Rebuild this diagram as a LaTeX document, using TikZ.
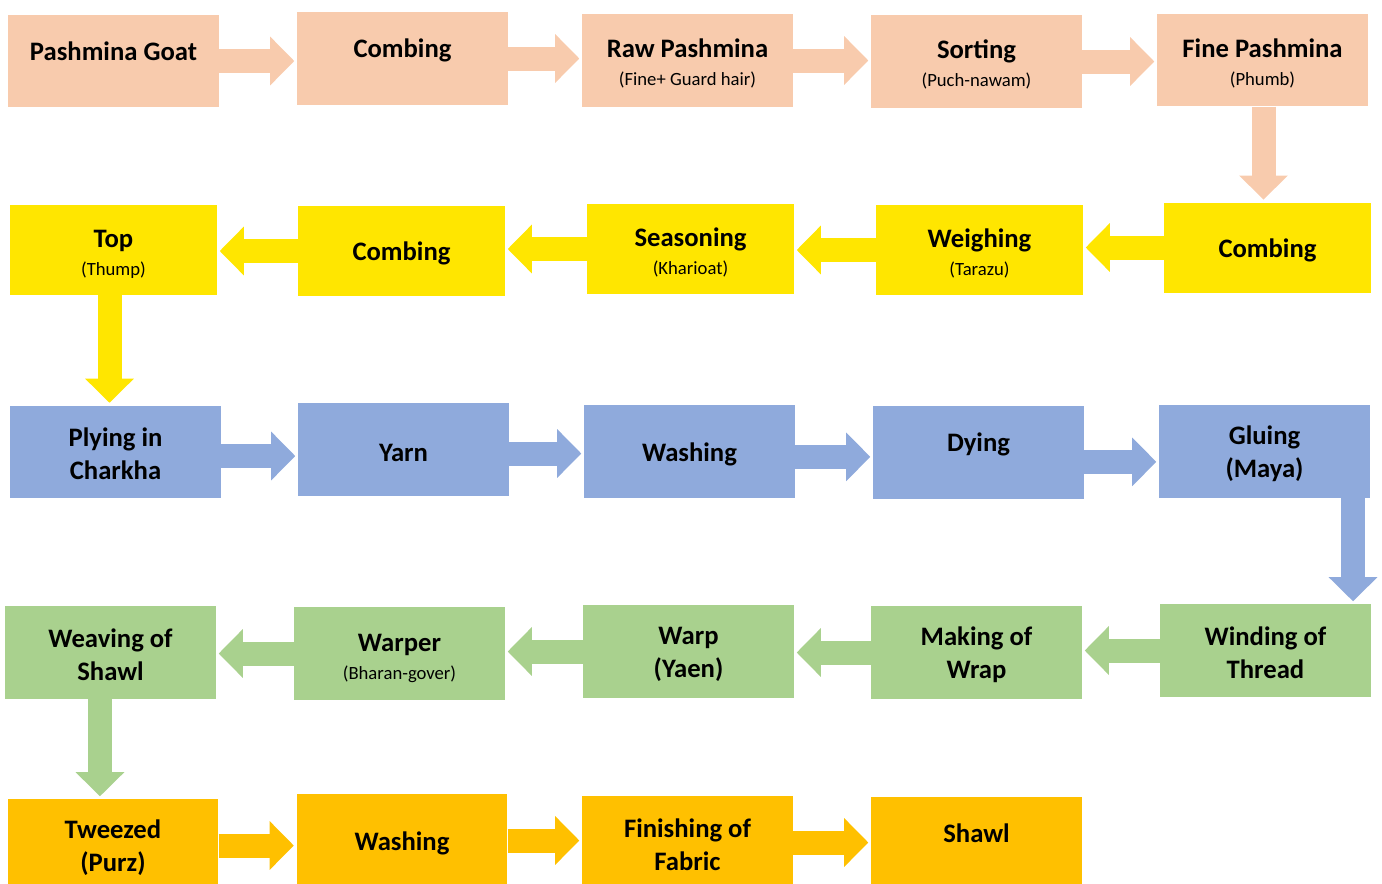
\documentclass[tikz,border=0pt]{standalone}
\usepackage{fontspec}
\setmainfont{Carlito}
\usetikzlibrary{arrows.meta,positioning,calc}

\definecolor{peach}{HTML}{F8CBAD}
\definecolor{lemon}{HTML}{FFE600}
\definecolor{cornflower}{HTML}{8FAADC}
\definecolor{sage}{HTML}{A9D18E}
\definecolor{amber}{HTML}{FFC000}
\newcommand{\subnote}[1]{{\fontsize{14}{17}\selectfont\mdseries #1}}

\begin{document}
\begin{tikzpicture}[
x=0.75pt, y=-0.75pt,
stage/.style = {rectangle, minimum width=158pt, minimum height=69.5pt, inner sep=0pt, align=center, font=\fontsize{20}{25}\selectfont\bfseries, text height=18pt},
noted/.style = {text height=40pt},
twoline/.style = {text height=42pt},
lifted/.style = {text height=18pt, text depth=19pt},
flow/.style = {line width=18pt, -{Triangle[length=18pt, width=36.5pt, line width=0pt]}, shorten >=2pt}
]
\useasboundingbox (0,0) rectangle (1382,883);

% row 1
\node [stage, fill=peach, lifted] (goat) at (113.5, 61) {Pashmina Goat};
\node [stage, fill=peach, lifted] (comb1) at (402.5, 58.5) {Combing};
\node [stage, fill=peach, noted] (raw) at (687.5, 60.5) {Raw Pashmina\\[-4pt]\subnote{(Fine+ Guard hair)}};
\node [stage, fill=peach, noted] (sort) at (976.5, 61.5) {Sorting\\[-4pt]\subnote{(Puch-nawam)}};
\node [stage, fill=peach, noted] (fine) at (1262.5, 60) {Fine Pashmina\\[-4pt]\subnote{(Phumb)}};

% row 2
\node [stage, fill=lemon, noted, minimum width=155pt, minimum height=67.5pt] (top) at (113.5, 250) {Top\\[-4pt]\subnote{(Thump)}};
\node [stage, fill=lemon, minimum width=155pt, minimum height=67.5pt] (comb2) at (401.5, 251) {Combing};
\node [stage, fill=lemon, noted, minimum width=155pt, minimum height=67.5pt] (seas) at (690.5, 249) {Seasoning\\[-4pt]\subnote{(Kharioat)}};
\node [stage, fill=lemon, noted, minimum width=155pt, minimum height=67.5pt] (weigh) at (979.5, 250) {Weighing\\[-4pt]\subnote{(Tarazu)}};
\node [stage, fill=lemon, minimum width=155pt, minimum height=67.5pt] (comb3) at (1267.5, 247.5) {Combing};

% row 3
\node [stage, fill=cornflower, twoline] (ply) at (115.5, 452) {Plying in\\Charkha};
\node [stage, fill=cornflower] (yarn) at (403.5, 449.5) {Yarn};
\node [stage, fill=cornflower] (wash1) at (689.5, 451.5) {Washing};
\node [stage, fill=cornflower, lifted] (dye) at (978.5, 452.5) {Dying};
\node [stage, fill=cornflower, twoline] (glue) at (1264.5, 451.5) {Gluing\\(Maya)};

% row 4
\node [stage, fill=sage, twoline] (weave) at (110.5, 652.5) {Weaving of\\Shawl};
\node [stage, fill=sage, noted, text height=41.5pt] (warper) at (399.5, 653.5) {Warper\\[-4pt]\subnote{(Bharan-gover)}};
\node [stage, fill=sage, twoline] (warp) at (688.5, 651.5) {Warp\\(Yaen)};
\node [stage, fill=sage, twoline] (make) at (976.5, 652.5) {Making of\\Wrap};
\node [stage, fill=sage, twoline] (wind) at (1265.5, 650.5) {Winding of\\Thread};

% row 5
\node [stage, fill=amber, twoline] (tweez) at (113, 845.5) {Tweezed\\(Purz)};
\node [stage, fill=amber] (wash2) at (402, 840.5) {Washing};
\node [stage, fill=amber, twoline] (finish) at (687.5, 842.5) {Finishing of\\Fabric};
\node [stage, fill=amber, lifted] (shawl) at (976.5, 843.5) {Shawl};

% arrows
\draw [flow, peach] (goat.east) -- (goat.east -| comb1.west);
\draw [flow, peach] (comb1.east) -- (comb1.east -| raw.west);
\draw [flow, peach] (raw.east) -- (raw.east -| sort.west);
\draw [flow, peach] (sort.east) -- (sort.east -| fine.west);
\draw [flow, peach] ([xshift=0.75pt]fine.south) -- ([xshift=0.75pt]fine.south |- comb3.north);

\draw [flow, lemon] (comb3.west) -- (comb3.west -| weigh.east);
\draw [flow, lemon] (weigh.west) -- (weigh.west -| seas.east);
\draw [flow, lemon] (seas.west) -- (seas.west -| comb2.east);
\draw [flow, lemon] (comb2.west) -- (comb2.west -| top.east);
\draw [flow, lemon] ([xshift=-3pt]top.south) -- ([xshift=-3pt]top.south |- ply.north);

\draw [flow, cornflower] ([yshift=-3pt]ply.east) -- ([yshift=-3pt]ply.east -| yarn.west);
\draw [flow, cornflower] ([yshift=-3pt]yarn.east) -- ([yshift=-3pt]yarn.east -| wash1.west);
\draw [flow, cornflower] ([yshift=-4pt]wash1.east) -- ([yshift=-4pt]wash1.east -| dye.west);
\draw [flow, cornflower] ([yshift=-7pt]dye.east) -- ([yshift=-7pt]dye.east -| glue.west);
\draw [flow, cornflower] ([xshift=66.4pt]glue.south) -- ([xshift=66.4pt]glue.south |- wind.north);

\draw [flow, sage] (wind.west) -- (wind.west -| make.east);
\draw [flow, sage] (make.west) -- (make.west -| warp.east);
\draw [flow, sage] (warp.west) -- (warp.west -| warper.east);
\draw [flow, sage] (warper.west) -- (warper.west -| weave.east);
\draw [flow, sage] ([xshift=-7.9pt]weave.south) -- ([xshift=-7.9pt]weave.south |- tweez.north);

\draw [flow, amber] (tweez.east) -- (tweez.east -| wash2.west);
\draw [flow, amber] (wash2.east) -- (wash2.east -| finish.west);
\draw [flow, amber] (finish.east) -- (finish.east -| shawl.west);

\end{tikzpicture}
\end{document}
